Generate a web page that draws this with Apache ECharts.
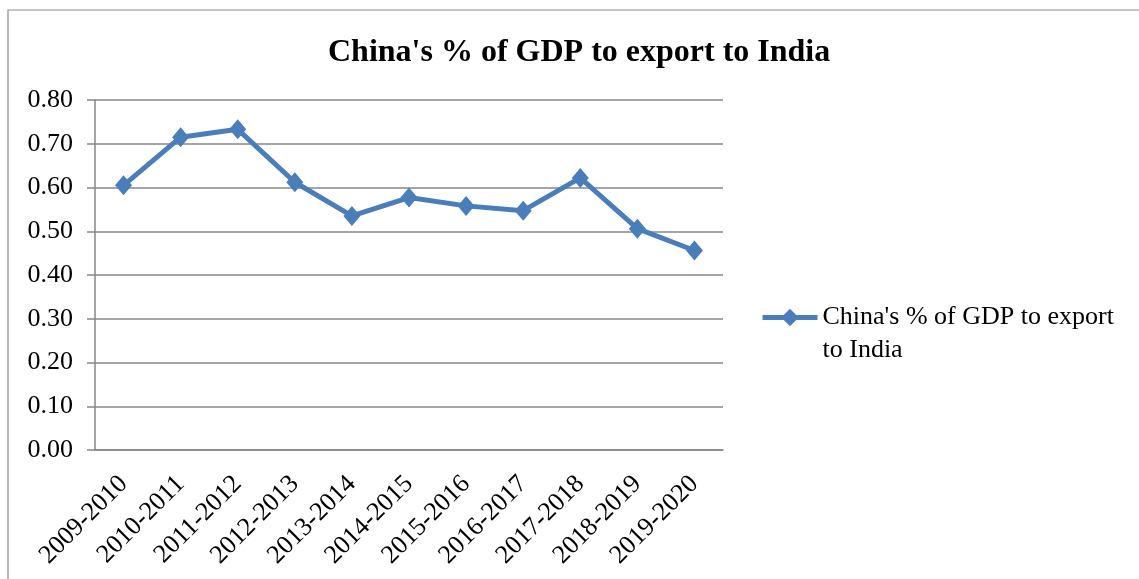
<!DOCTYPE html>
<html><head><meta charset="utf-8">
<script src="https://cdn.jsdelivr.net/npm/echarts@6/dist/echarts.min.js"></script>
<style>html,body{margin:0;padding:0;background:#fff}#c{width:1139px;height:579px}</style>
</head><body><div id="c"></div>
<script>
const categories = ['2009-2010','2010-2011','2011-2012','2012-2013','2013-2014','2014-2015','2015-2016','2016-2017','2017-2018','2018-2019','2019-2020'];
const values = [0.605, 0.715, 0.733, 0.612, 0.535, 0.577, 0.558, 0.547, 0.622, 0.506, 0.456];
const seriesName = "China's % of GDP to export to India";
const yTicks = [0, 0.8, 0.1];

const chart = echarts.init(document.getElementById('c'), null, {renderer: 'canvas'});
const font = 'Liberation Serif, Times New Roman, serif';
chart.setOption({
  animation: false,
  backgroundColor: '#fff',
  textStyle: {fontFamily: font},
  title: {
    text: seriesName,
    left: 323, top: 32,
    textStyle: {fontFamily: font, fontSize: 32, fontWeight: 'bold', color: '#000'}
  },
  graphic: [{
    type: 'rect', silent: true,
    shape: {x: 8, y: 10, width: 1300, height: 800},
    style: {fill: 'none', stroke: '#8c8c8c', lineWidth: 1.2}
  }],
  legend: {
    left: 755, top: 263,
    itemWidth: 55, itemHeight: 22,
    itemGap: 0,
    lineStyle: {width: 5},
    formatter: () => " \nChina's % of GDP to export\nto India",
    textStyle: {fontFamily: font, fontSize: 26, color: '#000', lineHeight: 33}
  },
  grid: {left: 95, right: 416, top: 100, bottom: 129, containLabel: false},
  xAxis: {
    type: 'category', data: categories, boundaryGap: true,
    axisLine: {lineStyle: {color: '#878787', width: 1.5}},
    axisTick: {interval: 0, length: 8, lineStyle: {color: '#878787', width: 1.5}},
    axisLabel: {interval: 0, rotate: 45, fontFamily: font, fontSize: 26, color: '#000', margin: 30}
  },
  yAxis: {
    type: 'value', min: yTicks[0], max: yTicks[1], interval: yTicks[2],
    axisLine: {show: true, lineStyle: {color: '#878787', width: 1.5}},
    axisTick: {show: true, inside: false, length: 8, lineStyle: {color: '#878787', width: 1.5}},
    axisLabel: {formatter: v => v.toFixed(2), fontFamily: font, fontSize: 26, color: '#000', margin: 22},
    splitLine: {lineStyle: {color: '#878787', width: 1.5}}
  },
  series: [{
    name: seriesName, type: 'line', data: values,
    symbol: 'diamond', symbolSize: [17, 20],
    lineStyle: {color: '#4a7ebb', width: 5},
    itemStyle: {color: '#4a7ebb'}
  }]
});
</script></body></html>
